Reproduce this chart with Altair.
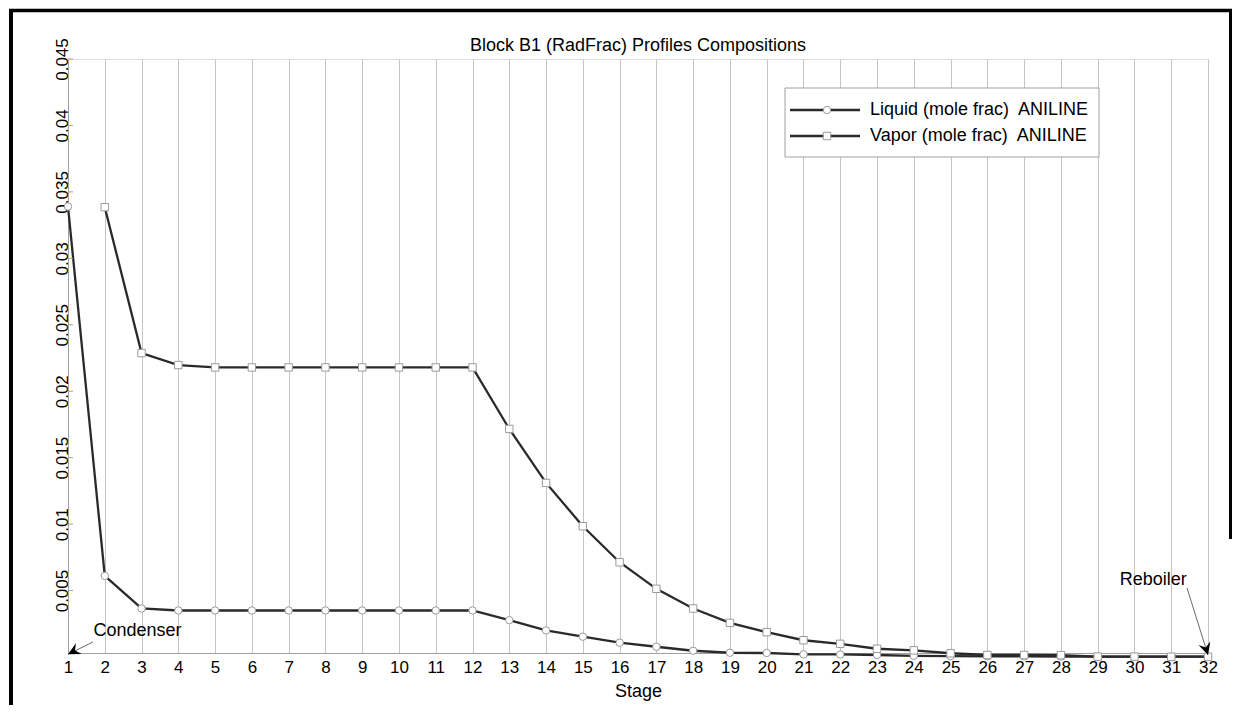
import altair as alt
import pandas as pd

# ---------------- data ----------------
stages = list(range(1, 33))
liquid = [0.0339, 0.0061, 0.00365, 0.0035, 0.0035, 0.0035, 0.0035, 0.0035,
          0.0035, 0.0035, 0.0035, 0.0035, 0.00277, 0.0020, 0.00153, 0.00108,
          0.00077, 0.00047, 0.00032, 0.00030, 0.00020, 0.00019, 0.00015,
          0.00009, 0.00006, 0.00005, 0.00004, 0.00003, 0.00002, 0.00002,
          0.00002, 0.00002]
vapor = [None, 0.03385, 0.02287, 0.02197, 0.02179, 0.02179, 0.02179, 0.02179,
         0.02179, 0.02179, 0.02179, 0.02179, 0.01716, 0.0131, 0.00984, 0.00713,
         0.00513, 0.00365, 0.00257, 0.00187, 0.00126, 0.00099, 0.00062,
         0.00050, 0.00028, 0.00015, 0.00015, 0.00014, 0.00003, 0.00003,
         0.00002, 0.00002]
series_names = ["Liquid (mole frac)\u00a0 ANILINE", "Vapor (mole frac)\u00a0 ANILINE"]
y_ticks = [0.005, 0.01, 0.015, 0.02, 0.025, 0.03, 0.035, 0.04, 0.045]
title_text = ["Block B1 (RadFrac) Profiles Compositions"]

ann_labels = ["Condenser", "Reboiler"]
ann_text_stage = [2.89, 30.51]
ann_text_value = [0.00196, 0.00579]
arrow_from_stage = [1.68, 31.43]
arrow_from_value = [0.00113, 0.00519]
arrow_to_stage = [1.0, 32.0]
arrow_to_value = [0.00020, 0.00015]

# ---------------- tables ----------------
df = pd.DataFrame({
    "stage": stages * 2,
    "value": liquid + vapor,
    "series": [series_names[0]] * len(stages) + [series_names[1]] * len(stages),
})
ticks_df = pd.DataFrame({"value": y_ticks})
ann_df = pd.DataFrame({"label": ann_labels, "stage": ann_text_stage, "value": ann_text_value})
arrow_df = pd.DataFrame({"stage": arrow_from_stage, "value": arrow_from_value,
                         "stage2": arrow_to_stage, "value2": arrow_to_value})
head_df = pd.DataFrame({"stage": arrow_to_stage, "value": arrow_to_value})

FONT = "Liberation Sans"
W, H = 1140, 594

xscale = alt.Scale(domain=[1, 32], nice=False, zero=False)
yscale = alt.Scale(domain=[0.0003, 0.045], nice=False, zero=False)
xaxis = alt.Axis(values=stages, format="d", title="Stage", grid=True, gridColor="#c4c4c4",
                 gridWidth=1, ticks=False, labelPadding=6, labelFontSize=17,
                 labelFont=FONT, labelColor="black", titleFont=FONT, titleFontSize=18,
                 titleFontWeight="normal", titleColor="black", titlePadding=7,
                 domainColor="#a0a0a0", domainWidth=1, labelFlush=False)
yaxis = alt.Axis(values=y_ticks, format=".3~f", title=None, grid=False, ticks=False,
                 labelAngle=270, labelAlign="center", labelBaseline="alphabetic",
                 labelPadding=1, labelFontSize=17, labelFont=FONT, labelColor="black",
                 domainColor="#a0a0a0", domainWidth=1, labelFlush=False,
                 labelOverlap=False)
X = alt.X("stage:Q", scale=xscale, axis=xaxis)
Y = alt.Y("value:Q", scale=yscale, axis=yaxis)

base = alt.Chart(df)

lines = base.mark_line(color="#2a2a2a", strokeWidth=2.3).encode(x=X, y=Y, detail="series:N")
points = base.mark_point(filled=True, color="white", stroke="#9a9a9a", strokeWidth=1,
                         size=55, opacity=1).encode(
    x=X, y=Y,
    shape=alt.Shape("series:N", scale=alt.Scale(domain=series_names, range=["circle", "square"]),
                    legend=None))

yticks = alt.Chart(ticks_df).mark_rule(color="#a0a0a0", strokeWidth=1).encode(
    y=Y, x=alt.value(0), x2=alt.value(5))

arrows = alt.Chart(arrow_df).mark_rule(color="#6a6a6a", strokeWidth=1).encode(
    x=X, y=Y, x2="stage2:Q", y2="value2:Q")
arrow_path = "M0,0 L-0.5,1 L0,0.65 L0.5,1 Z"
head1 = alt.Chart(head_df.iloc[[0]]).mark_point(shape=arrow_path, filled=True, color="black",
                                                 size=600, angle=242, opacity=1).encode(x=X, y=Y)
head2 = alt.Chart(head_df.iloc[[1]]).mark_point(shape=arrow_path, filled=True, color="black",
                                                 size=600, angle=163, opacity=1).encode(x=X, y=Y)
ann_text = alt.Chart(ann_df).mark_text(font=FONT, fontSize=18, color="black",
                                       baseline="middle", align="center").encode(
    x=X, y=Y, text="label:N")

# border
border_left = alt.Chart(ticks_df.iloc[[0]]).mark_rule(color="black", strokeWidth=4).encode(
    x=alt.value(-57), y=alt.value(-50), y2=alt.value(H + 60))
border_top = alt.Chart(ticks_df.iloc[[0]]).mark_rule(color="black", strokeWidth=3.5).encode(
    x=alt.value(-59), x2=alt.value(1164), y=alt.value(-48.5))
border_right = alt.Chart(ticks_df.iloc[[0]]).mark_rule(color="black", strokeWidth=3).encode(
    x=alt.value(1162.5), y=alt.value(-50), y2=alt.value(480))

# title
title = alt.Chart(pd.DataFrame({"t": title_text})).mark_text(
    font=FONT, fontSize=18, color="black", align="center", baseline="middle").encode(
    x=alt.value(W / 2), y=alt.value(-13), text="t:N")

# legend (manual)
leg_box = alt.Chart(ticks_df.iloc[[0]]).mark_rect(fill="white", stroke="#a0a0a0",
                                                   strokeWidth=1).encode(
    x=alt.value(717), x2=alt.value(1031), y=alt.value(29), y2=alt.value(98))
legend_layers = [leg_box]
for i, (name, shp) in enumerate(zip(series_names, ["circle", "square"])):
    yy = 51 + 26 * i
    one = pd.DataFrame({"label": [name]})
    legend_layers.append(alt.Chart(one).mark_rule(color="#2a2a2a", strokeWidth=2.3).encode(
        x=alt.value(722), x2=alt.value(792), y=alt.value(yy)))
    legend_layers.append(alt.Chart(one).mark_point(shape=shp, filled=True, color="white",
                                                   stroke="#9a9a9a", strokeWidth=1, size=55,
                                                   opacity=1).encode(
        x=alt.value(759), y=alt.value(yy)))
    legend_layers.append(alt.Chart(one).mark_text(font=FONT, fontSize=18, color="black",
                                                  align="left", baseline="middle").encode(
        x=alt.value(802), y=alt.value(yy), text="label:N"))

chart = alt.layer(lines, points, yticks, arrows, head1, head2, ann_text,
                  border_left, border_top, border_right, title, *legend_layers).properties(
    width=W, height=H,
    autosize=alt.AutoSizeParams(type="none"),
    padding={"left": 60, "top": 51, "right": 24, "bottom": 52},
).configure_view(stroke=None).configure(background="white")

chart.save("out.html", embed_options={"renderer": "svg", "actions": False})
